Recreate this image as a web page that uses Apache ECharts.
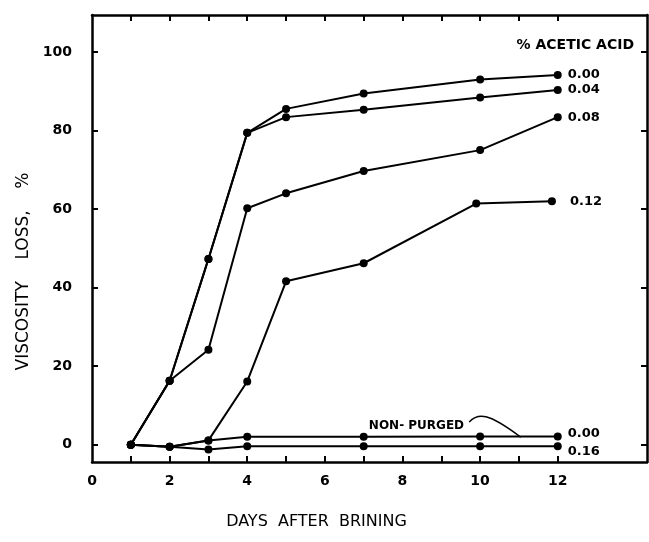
<!DOCTYPE html>
<html><head><meta charset="utf-8">
<script src="https://cdn.jsdelivr.net/npm/echarts@6/dist/echarts.min.js"></script>
<style>html,body{margin:0;padding:0;background:#fff}#c{width:649px;height:542px}</style>
</head><body><div id="c"></div>
<script>
// ---- data ----
const daysPurged = [1, 2, 3, 4, 5, 7, 10, 12];
const acid000 = [0, 16.3, 47.3, 79.4, 85.5, 89.4, 93.0, 94.1];
const acid004 = [0, 16.3, 47.3, 79.4, 83.4, 85.3, 88.4, 90.3];
const acid008 = [0, 16.3, 24.2, 60.2, 64.0, 69.7, 75.0, 83.4];
const days012 = [1, 2, 3, 4, 5, 7, 9.9, 11.85];
const acid012 = [0, -0.5, 1.1, 16.1, 41.6, 46.2, 61.4, 62.0];
const daysFlat = [1, 2, 3, 4, 7, 10, 12];
const nonPurged000 = [0, -0.5, 1.1, 2.0, 2.0, 2.1, 2.1];
const acid016 = [0, -0.5, -1.2, -0.4, -0.4, -0.4, -0.4];
const seriesLabels = ['0.00', '0.04', '0.08', '0.12', '0.00', '0.16'];
const xTickLabels = [0, 2, 4, 6, 8, 10, 12];
const xTickDays = [1, 2, 3, 4, 5, 6, 7, 8, 9, 10, 11, 12];
const yTickLabels = [0, 20, 40, 60, 80, 100];
const legendTitle = '% ACETIC ACID';
const noteText = 'NON- PURGED';
const noteAt = [8.36, 4.9];
const noteCurve = [[9.72, 5.8], [9.95, 8.2], [10.2, 8.2], [11.05, 1.9]];

const FONT = 'DejaVu Sans';
const zip = (xs, ys) => xs.map((x, i) => [x, ys[i]]);
const labelOffsets = [[0, 0], [0, 0], [0, 0], [8, 0], [0, -3], [0, 5]];
const seriesData = [
  zip(daysPurged, acid000), zip(daysPurged, acid004), zip(daysPurged, acid008),
  zip(days012, acid012), zip(daysFlat, nonPurged000), zip(daysFlat, acid016)
];

const axisLineStyle = { color: '#000', width: 2.5 };
const tickStyle = { color: '#000', width: 2 };
const chart = echarts.init(document.getElementById('c'), null, { renderer: 'canvas' });

chart.setOption({
  animation: false,
  backgroundColor: '#fff',
  title: {
    text: legendTitle, right: 10, top: 33,
    textStyle: { fontFamily: FONT, fontSize: 14, fontWeight: 'bold', color: '#000' }
  },
  grid: { left: 92, right: 2, top: 15, bottom: 80, containLabel: false },
  xAxis: [{
    type: 'value', min: 0, max: 14.3, position: 'bottom',
    axisLine: { show: true, onZero: false, lineStyle: axisLineStyle },
    axisTick: { show: true, inside: true, length: 6, customValues: xTickDays, lineStyle: tickStyle },
    axisLabel: { customValues: xTickLabels, margin: 12, color: '#000', fontSize: 14, fontWeight: 'bold', fontFamily: FONT },
    splitLine: { show: false },
    name: 'DAYS  AFTER  BRINING', nameLocation: 'middle', nameGap: 52,
    nameTextStyle: { fontFamily: FONT, fontSize: 16, color: '#000', padding: [0, 106, 0, 0] }
  }, {
    type: 'value', min: 0, max: 14.3, position: 'top',
    axisLine: { show: true, onZero: false, lineStyle: axisLineStyle },
    axisTick: { show: true, inside: true, length: 6, customValues: xTickDays, lineStyle: tickStyle },
    axisLabel: { show: false }, splitLine: { show: false }
  }],
  yAxis: [{
    type: 'value', min: -4.4, max: 109.4, position: 'left',
    axisLine: { show: true, onZero: false, lineStyle: axisLineStyle },
    axisTick: { show: true, inside: true, length: 6, customValues: yTickLabels, lineStyle: tickStyle },
    axisLabel: { customValues: yTickLabels, margin: 20, color: '#000', fontSize: 14, fontWeight: 'bold', fontFamily: FONT },
    splitLine: { show: false },
    name: 'VISCOSITY    LOSS,    %', nameLocation: 'middle', nameGap: 54, nameRotate: 90,
    nameTextStyle: { fontFamily: FONT, fontSize: 17, color: '#000', padding: [0, 66, 0, 0] }
  }, {
    type: 'value', min: -4.4, max: 109.4, position: 'right',
    axisLine: { show: true, onZero: false, lineStyle: axisLineStyle },
    axisTick: { show: true, inside: true, length: 6, customValues: yTickLabels, lineStyle: tickStyle },
    axisLabel: { show: false }, splitLine: { show: false }
  }],
  series: seriesData.map((d, i) => ({
    type: 'line', name: seriesLabels[i], data: d,
    xAxisIndex: 0, yAxisIndex: 0,
    symbol: 'circle', symbolSize: 8, showAllSymbol: true,
    lineStyle: { color: '#000', width: 2 }, itemStyle: { color: '#000' },
    emphasis: { disabled: true },
    endLabel: {
      show: true, formatter: seriesLabels[i], distance: 10, offset: labelOffsets[i],
      color: '#000', fontSize: 13, fontWeight: 'bold', fontFamily: FONT
    }
  }))
});

const px = p => chart.convertToPixel({ xAxisIndex: 0, yAxisIndex: 0 }, p);
const t = px(noteAt), c0 = px(noteCurve[0]), c1 = px(noteCurve[1]), c2 = px(noteCurve[2]), c3 = px(noteCurve[3]);
chart.setOption({
  graphic: [{
    type: 'text', x: t[0], y: t[1],
    style: { text: noteText, fontFamily: FONT, fontSize: 12, fontWeight: 'bold', fill: '#000', align: 'center', verticalAlign: 'middle' }
  }, {
    type: 'bezierCurve',
    shape: { x1: c0[0], y1: c0[1], cpx1: c1[0], cpy1: c1[1], cpx2: c2[0], cpy2: c2[1], x2: c3[0], y2: c3[1] },
    style: { stroke: '#000', lineWidth: 1.5, fill: null }
  }]
});
</script></body></html>
